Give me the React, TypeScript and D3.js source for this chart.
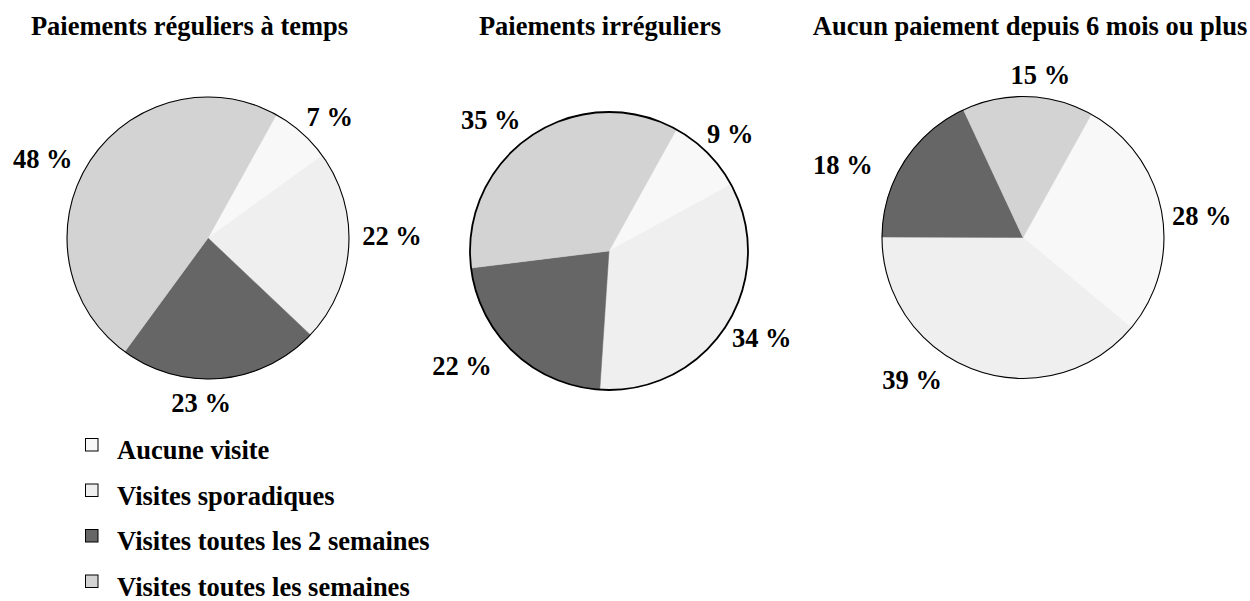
import React from "react";
import * as d3 from "d3";

// ---- Data ----
const categories = [
  "Aucune visite",
  "Visites sporadiques",
  "Visites toutes les 2 semaines",
  "Visites toutes les semaines",
];
const titles = [
  "Paiements réguliers à temps",
  "Paiements irréguliers",
  "Aucun paiement depuis 6 mois ou plus",
];
const reguliers = [7, 22, 23, 48];
const irreguliers = [9, 34, 22, 35];
const aucunPaiement = [28, 39, 18, 15];
const seriesList = [reguliers, irreguliers, aucunPaiement];

// ---- Styles / layout ----
const colors = ["#f8f8f8", "#efefef", "#666666", "#d3d3d3"];
const W = 1250;
const H = 601;
const FONT = "'Liberation Serif', 'Times New Roman', serif";
const FS = 26.5;
const startDeg = 29;
const panels = [
  { cx: 208, cy: 238, r: 141, titleX: 189.5, stroke: 1.1 },
  { cx: 609, cy: 251, r: 139, titleX: 600, stroke: 1.8 },
  { cx: 1023, cy: 237.5, r: 141, titleX: 1030, stroke: 1.1 },
];
// label placement: [angle nudge in degrees, distance from centre]
const labelPlacement = [
  [[3.8, 171], [-4.4, 184], [7.6, 166], [-7.2, 183]],
  [[1, 168], [-2.8, 176], [8.4, 187], [-8.2, 176]],
  [[4, 180], [17.8, 181], [-10.8, 194], [4.1, 163]],
];

export default function App() {
  const start = (startDeg * Math.PI) / 180;
  const pie = d3
    .pie<number>()
    .sort(null)
    .value((d) => d)
    .startAngle(start)
    .endAngle(start + 2 * Math.PI);

  const legendY = d3.scaleLinear().domain([0, 1]).range([459, 504.5]);

  return (
    <svg
      width={W}
      height={H}
      style={{ position: "absolute", left: 0, top: 0, background: "#fff" }}
      fontFamily={FONT}
      fontWeight="bold"
      fontSize={FS}
    >
      <rect width={W} height={H} fill="#fff" />
      {seriesList.map((values, pi) => {
        const p = panels[pi];
        const arcs = pie(values);
        const arc = d3.arc<d3.PieArcDatum<number>>().innerRadius(0).outerRadius(p.r);
        return (
          <g key={pi}>
            <text x={p.titleX} y={34.5} textAnchor="middle" fill="#000">
              {titles[pi]}
            </text>
            <g transform={`translate(${p.cx},${p.cy})`}>
              {arcs.map((a, i) => (
                <path key={i} d={arc(a) || ""} fill={colors[i]} stroke={colors[i]} strokeWidth={0.5} />
              ))}
              <circle r={p.r} fill="none" stroke="#000" strokeWidth={p.stroke} />
              {arcs.map((a, i) => {
                const [nudge, dist] = labelPlacement[pi][i];
                const mid = (a.startAngle + a.endAngle) / 2 + (nudge * Math.PI) / 180;
                const lab = d3
                  .arc<any>()
                  .innerRadius(dist)
                  .outerRadius(dist)
                  .startAngle(mid)
                  .endAngle(mid);
                const [lx, ly] = lab.centroid({} as any);
                return (
                  <text key={i} x={lx} y={ly + 8.5} textAnchor="middle" fill="#000">
                    {`${a.data} %`}
                  </text>
                );
              })}
            </g>
          </g>
        );
      })}
      {categories.map((c, i) => {
        const y = legendY(i);
        return (
          <g key={c}>
            <rect x={85.5} y={y - 20.5} width={12.5} height={12.5} fill={colors[i]} stroke="#000" strokeWidth={1} />
            <text x={117} y={y} fill="#000">
              {c}
            </text>
          </g>
        );
      })}
    </svg>
  );
}
